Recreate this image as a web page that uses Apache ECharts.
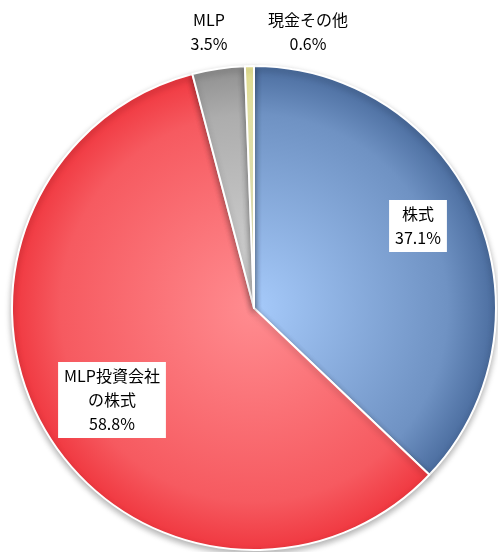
<!DOCTYPE html>
<html>
<head>
<meta charset="utf-8">
<script src="https://cdn.jsdelivr.net/npm/echarts@6/dist/echarts.min.js"></script>
<style>
html, body { margin: 0; padding: 0; background: #fff; }
#main { width: 498px; height: 552px; }
</style>
</head>
<body>
<div id="main"></div>
<script>
var names = ['株式', 'MLP投資会社\nの株式', 'MLP', '現金その他'];
var values = [37.1, 58.8, 3.5, 0.6];
// inner / outer colour of each slice
var innerColors = ['#a6cafa', '#ff8c90', '#d8d8d8', '#ffffd8'];
var outerColors = ['#4b6d9f', '#f03840', '#909090', '#eeea98'];

var cx = 254, cy = 308, r = 242;
var myChart = echarts.init(document.getElementById('main'));

var data = [];
for (var i = 0; i < names.length; i++) {
    data.push({
        name: names[i],
        value: values[i],
        itemStyle: {
            color: {
                type: 'radial', x: cx, y: cy, r: r, global: true,
                colorStops: [
                    { offset: 0, color: innerColors[i] },
                    { offset: 0.8, color: echarts.color.lerp(0.6, [innerColors[i], outerColors[i]]) },
                    { offset: 1, color: outerColors[i] }
                ]
            }
        }
    });
}

// label anchor points (centre of each label)
var labelPos = [[418, 226], [112, 400], [209, 32], [308, 32]];

var option = {
    animation: false,
    series: [{
        type: 'pie',
        center: [cx, cy],
        radius: [0, r],
        startAngle: 90,
        clockwise: true,
        itemStyle: {
            borderColor: '#fff',
            borderWidth: 2,
            shadowBlur: 6,
            shadowOffsetY: 3,
            shadowColor: 'rgba(0,0,0,0.3)'
        },
        label: {
            show: true,
            position: 'inside',
            overflow: 'none',
            formatter: function (p) { return p.name + '\n' + p.value + '%'; },
            fontFamily: '"Noto Sans CJK JP", sans-serif',
            fontSize: 16,
            lineHeight: 24,
            color: '#000',
            backgroundColor: '#fff',
            padding: [2, 6],
            align: 'center'
        },
        labelLine: {
            show: false
        },
        labelLayout: function (params) {
            var p = labelPos[params.dataIndex];
            return { x: p[0], y: p[1], align: 'center', verticalAlign: 'middle' };
        },
        data: data
    }]
};

myChart.setOption(option);
</script>
</body>
</html>
